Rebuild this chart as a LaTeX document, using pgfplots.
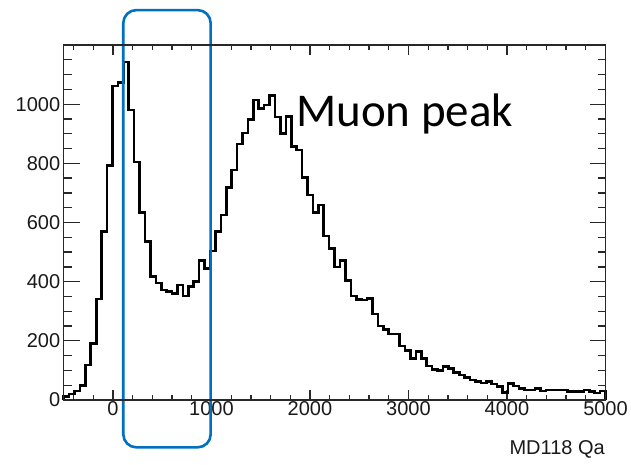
\documentclass[border=0pt]{standalone}
\usepackage{pgfplots}
\pgfplotsset{compat=1.18}
\usepackage{pgfplotstable}
\usepackage{fontspec}
\setmainfont{Liberation Sans}
\newfontfamily\calibri{Carlito}
\definecolor{boxblue}{RGB}{0,112,192}
\definecolor{framec}{RGB}{40,40,40}

\pgfplotstableread{
x y
-500 0
-500 11
-445 20
-390 30
-335 50
-280 118
-225 191
-170 341
-115 569
-60 792
-5 1061
50 1073
105 1143
160 980
215 805
270 633
325 535
380 417
435 396
490 372
545 366
600 360
655 389
710 351
765 383
820 400
875 471
930 445
985 504
1040 569
1095 625
1150 718
1205 777
1260 865
1315 903
1370 948
1425 1014
1480 985
1535 997
1590 1030
1645 957
1700 901
1755 959
1810 856
1865 845
1920 752
1975 693
2030 633
2085 659
2140 554
2195 512
2250 450
2305 471
2360 403
2415 351
2470 340
2525 338
2580 344
2635 291
2690 250
2745 239
2800 223
2855 223
2910 182
2965 167
3020 141
3075 163
3130 141
3185 115
3240 104
3295 99
3350 113
3405 107
3460 92
3515 84
3570 77
3625 68
3680 62
3735 57
3790 63
3845 54
3900 45
3955 25
4010 56
4065 47
4120 39
4175 34
4230 34
4285 39
4340 31
4395 34
4450 34
4505 34
4560 34
4615 28
4670 28
4725 28
4780 34
4835 28
4890 23
4945 31
5000 31
5000 0
}\hist

\begin{document}
\begin{tikzpicture}[x=1pt,y=1pt]
\useasboundingbox (0,0) rectangle (631,464);
\pgfplotsset{
  rootaxis/.style={
    at={(63.7pt,64pt)}, anchor=south west,
    width=541.8pt, height=355pt, scale only axis,
    xmin=-500, xmax=5000, ymin=0, ymax=1200,
    axis line style={framec, line width=1.4pt},
    tick style={framec, line width=1.3pt},
    tick align=inside,
    xtick pos=both, ytick pos=both,
    scaled ticks=false,
    /pgf/number format/assume math mode=true,
    /pgf/number format/1000 sep={},
    tick label style={font=\fontsize{20}{24}\selectfont, text=black!90},
  }
}
\begin{axis}[rootaxis,
    clip=false,
    xtick={0,1000,...,5000},
    minor xtick={-400,-200,...,4800},
    ytick=\empty,
    major tick length=10pt, minor tick length=5pt,
    xticklabel style={yshift=2pt},
]
\addplot[const plot, black, line width=2.6pt, line join=miter, no marks] table[x=x, y=y] {\hist};
\draw[boxblue, line width=2.6pt, rounded corners=13pt] (axis cs:105,-160) rectangle (axis cs:992,1318);
\end{axis}
\begin{axis}[rootaxis,
    xtick=\empty,
    ytick={0,200,...,1000},
    minor ytick={50,100,...,1150},
    major tick length=16pt, minor tick length=8pt,
]
\end{axis}
\node[anchor=base west, inner sep=0pt, font=\calibri\fontsize{47}{56}\selectfont] at (296,337) {Muon peak};
\node[anchor=base east, inner sep=0pt, font=\fontsize{20}{24}\selectfont, text=black!90] at (605,10) {MD118 Qa};
\end{tikzpicture}
\end{document}
